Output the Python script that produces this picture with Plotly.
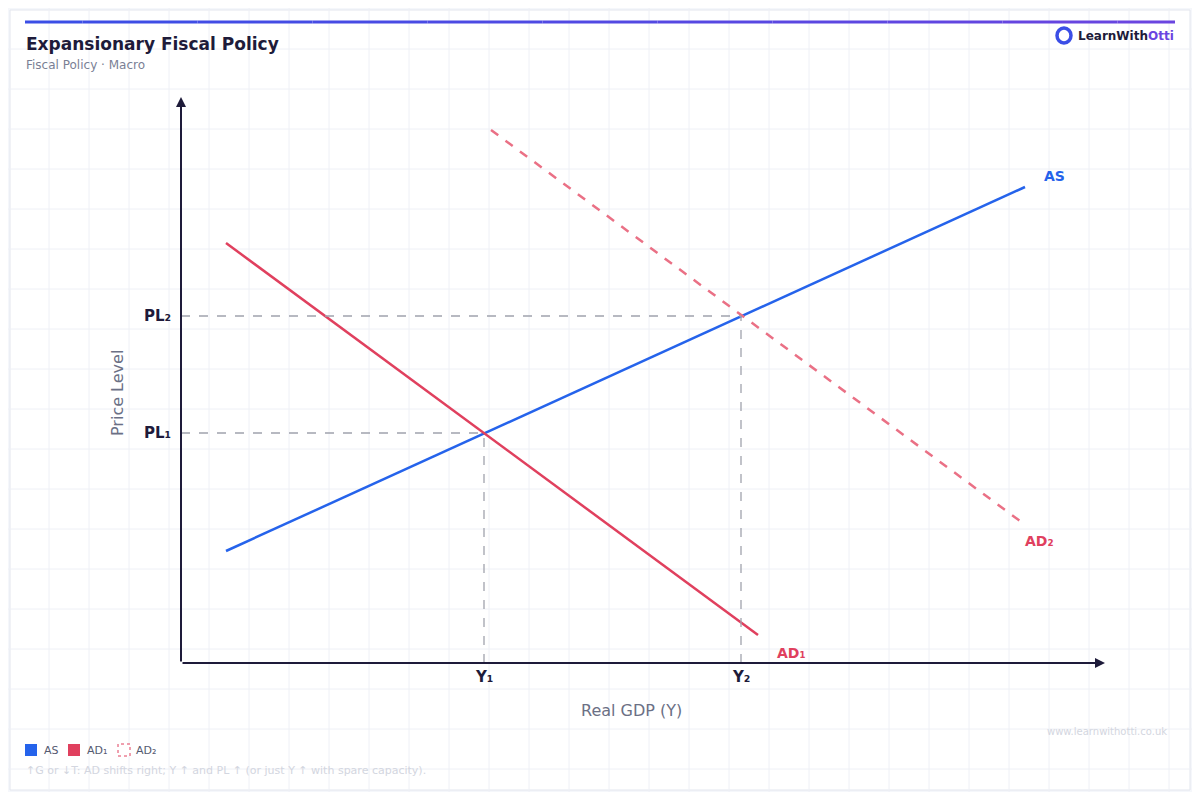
import plotly.graph_objects as go

# economic-space data (GDP units, price-level units)
as_x = [4.5, 84.4]
as_y = [11.2, 47.6]
ad1_x = [4.5, 57.7]
ad1_y = [42.0, 2.8]
ad2_x = [31.0, 83.9]
ad2_y = [53.3, 14.2]
eq_x = [30.3, 56.0]
eq_y = [23.0, 34.7]
eq_xlabels = ["Y₁", "Y₂"]
eq_ylabels = ["PL₁", "PL₂"]
x_max = 92.4
y_max = 56.6

BLUE = "#2563eb"
RED = "#e0405e"
DARK = "#1e1b3a"

# the page keeps an 8px body margin, so the figure is a bit smaller
OFF = 8
W, H = 1200 - 2 * OFF, 800 - 2 * OFF


def px(x):
    return (x - OFF) / W


def py(y):
    return 1 - (y - OFF) / H


fig = go.Figure()
fig.add_trace(go.Scatter(x=as_x, y=as_y, mode="lines", line=dict(color=BLUE, width=2.5)))
fig.add_trace(go.Scatter(x=ad1_x, y=ad1_y, mode="lines", line=dict(color=RED, width=2.5)))
fig.add_trace(go.Scatter(x=ad2_x, y=ad2_y, mode="lines",
                         line=dict(color="#ea7085", width=2.5, dash="dash")))

shapes = []
shapes.append(dict(type="rect", xref="paper", yref="paper", x0=px(10), x1=px(1190),
                   y0=py(790), y1=py(10), fillcolor="white",
                   line=dict(color="#e3e6ee", width=1), layer="below"))
for gx in range(49, 1200, 40):
    shapes.append(dict(type="line", xref="paper", yref="paper", x0=px(gx), x1=px(gx),
                       y0=0, y1=1, line=dict(color="#eef0f6", width=1), layer="below"))
for gy in range(49, 800, 40):
    shapes.append(dict(type="line", xref="paper", yref="paper", x0=0, x1=1,
                       y0=py(gy), y1=py(gy), line=dict(color="#eef0f6", width=1), layer="below"))
# top gradient bar
n = 20
for i in range(n):
    t = i / (n - 1)
    r = int(0x3b + (0x6a - 0x3b) * t)
    g = int(0x4e + (0x45 - 0x4e) * t)
    b = int(0xe6 + (0xe0 - 0xe6) * t)
    shapes.append(dict(type="line", xref="paper", yref="paper",
                       x0=px(25 + 1150 * i / n), x1=px(25 + 1150 * (i + 1) / n),
                       y0=py(22), y1=py(22), line=dict(color=f"rgb({r},{g},{b})", width=3)))
# guides
for xv, yv in zip(eq_x, eq_y):
    shapes.append(dict(type="line", x0=0, x1=xv, y0=yv, y1=yv,
                       line=dict(color="#a0a3ad", width=1.3, dash="dash")))
    shapes.append(dict(type="line", x0=xv, x1=xv, y0=0, y1=yv,
                       line=dict(color="#a0a3ad", width=1.3, dash="dash")))
# logo
shapes.append(dict(type="circle", xref="paper", yref="paper", x0=px(1057), x1=px(1071),
                   y0=py(43), y1=py(28), line=dict(color="#3b4ee6", width=3.5)))
# legend swatches
shapes.append(dict(type="rect", xref="paper", yref="paper", x0=px(25), x1=px(37),
                   y0=py(756), y1=py(744), fillcolor=BLUE, line_width=0))
shapes.append(dict(type="rect", xref="paper", yref="paper", x0=px(68), x1=px(80),
                   y0=py(756), y1=py(744), fillcolor=RED, line_width=0))
shapes.append(dict(type="rect", xref="paper", yref="paper", x0=px(118), x1=px(130),
                   y0=py(756), y1=py(744), fillcolor="white",
                   line=dict(color=RED, width=1, dash="dot")))

ann = []
# axes with arrows
ann.append(dict(x=x_max, y=0, ax=0, ay=0, axref="x", ayref="y", xref="x", yref="y",
                showarrow=True, arrowhead=2, arrowsize=1, arrowwidth=2, arrowcolor=DARK, text=""))
ann.append(dict(x=0, y=y_max, ax=0, ay=0, axref="x", ayref="y", xref="x", yref="y",
                showarrow=True, arrowhead=2, arrowsize=1, arrowwidth=2, arrowcolor=DARK, text=""))
for xv, lab in zip(eq_x, eq_xlabels):
    ann.append(dict(x=xv, y=0, yshift=-14, text=f"<b>{lab}</b>", showarrow=False,
                    font=dict(size=15, color=DARK)))
for yv, lab in zip(eq_y, eq_ylabels):
    ann.append(dict(x=0, y=yv, xshift=-8, xanchor="right", text=f"<b>{lab}</b>",
                    showarrow=False, font=dict(size=15, color=DARK)))
ann.append(dict(x=as_x[1], y=as_y[1], xshift=17, yshift=11, xanchor="left", text="<b>AS</b>",
                showarrow=False, font=dict(size=14, color=BLUE)))
ann.append(dict(x=ad1_x[1], y=ad1_y[1], xshift=17, yshift=-18, xanchor="left", text="<b>AD₁</b>",
                showarrow=False, font=dict(size=14, color=RED)))
ann.append(dict(x=ad2_x[1], y=ad2_y[1], xshift=3, yshift=-20, xanchor="left", text="<b>AD₂</b>",
                showarrow=False, font=dict(size=14, color=RED)))
ann.append(dict(x=x_max / 2.05, y=0, yshift=-47, text="Real GDP (Y)", showarrow=False,
                font=dict(size=16, color="#6b7085")))
ann.append(dict(x=0, y=27.0, xshift=-64, text="Price Level", textangle=-90, showarrow=False,
                font=dict(size=16, color="#6b7085")))


def pann(x, y, text, size, color, anchor="left"):
    ann.append(dict(xref="paper", yref="paper", x=px(x), y=py(y), xanchor=anchor,
                    yanchor="middle", text=text, showarrow=False,
                    font=dict(size=size, color=color)))


pann(24, 44, "<b>Expansionary Fiscal Policy</b>", 17, DARK)
pann(24, 65, "Fiscal Policy · Macro", 12, "#7a7f95")
pann(1076, 36, "<b>LearnWith<span style='color:#6a45e0'>Otti</span></b>", 12, DARK)
pann(42, 750, "AS", 11, "#555a70")
pann(85, 750, "AD₁", 11, "#555a70")
pann(134, 750, "AD₂", 11, "#555a70")
pann(24, 770, "↑G or ↓T: AD shifts right; Y ↑ and PL ↑ (or just Y ↑ with spare capacity).",
     11, "#d3d6e0")
pann(1169, 731, "www.learnwithotti.co.uk", 10, "#d3d6e0", anchor="right")

fig.update_layout(
    width=W, height=H, margin=dict(l=0, r=0, t=0, b=0),
    paper_bgcolor="#f5f7fb", plot_bgcolor="rgba(0,0,0,0)",
    font=dict(family="DejaVu Sans"), showlegend=False,
    xaxis=dict(range=[-17.3, 101.1], visible=False, fixedrange=True),
    yaxis=dict(range=[-12.9, 65.5], visible=False, fixedrange=True),
    shapes=shapes, annotations=ann,
)
fig.write_html("out.html")
